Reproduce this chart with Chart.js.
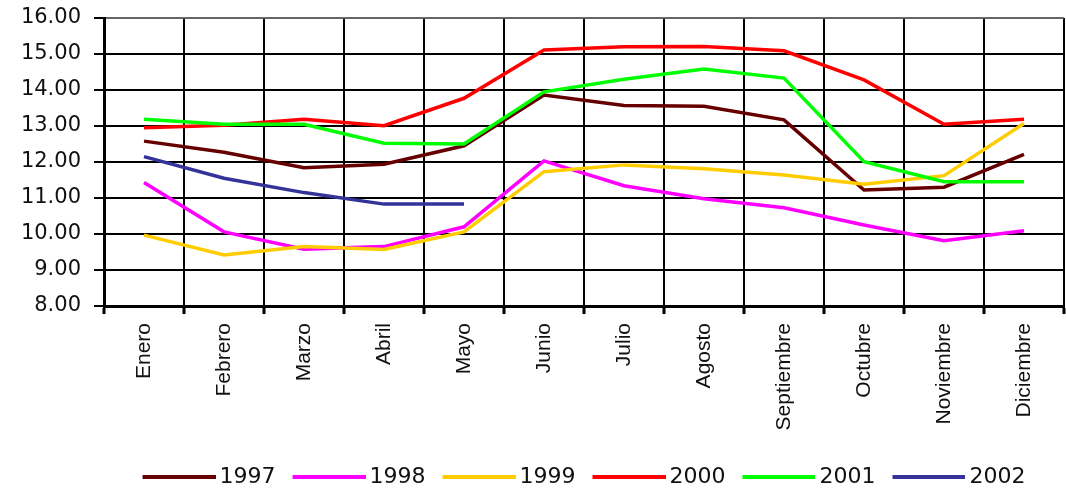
<!DOCTYPE html>
<html>
<head>
<meta charset="utf-8">
<script src="https://cdn.jsdelivr.net/npm/chart.js@4/dist/chart.umd.min.js"></script>
<style>
  html, body { margin: 0; padding: 0; background: #fff; }
  canvas { display: block; }
</style>
</head>
<body>
<canvas id="chart" width="1066" height="493"></canvas>
<script>
// Monthly values per year
const months = ['Enero', 'Febrero', 'Marzo', 'Abril', 'Mayo', 'Junio', 'Julio',
                'Agosto', 'Septiembre', 'Octubre', 'Noviembre', 'Diciembre'];
const years = ['1997', '1998', '1999', '2000', '2001', '2002'];

const v1997 = [12.58, 12.27, 11.84, 11.94, 12.45, 13.86, 13.57, 13.55, 13.17, 11.22, 11.30, 12.21];
const v1998 = [11.43, 10.06, 9.58, 9.65, 10.20, 12.03, 11.34, 10.98, 10.73, 10.25, 9.81, 10.09];
const v1999 = [9.97, 9.42, 9.65, 9.57, 10.06, 11.73, 11.92, 11.81, 11.64, 11.38, 11.62, 13.07];
const v2000 = [12.95, 13.02, 13.19, 13.01, 13.77, 15.11, 15.20, 15.21, 15.09, 14.28, 13.05, 13.19];
const v2001 = [13.19, 13.05, 13.05, 12.52, 12.50, 13.95, 14.30, 14.58, 14.33, 12.01, 11.45, 11.45];
const v2002 = [12.15, 11.55, 11.15, 10.83, 10.83, null, null, null, null, null, null, null];

const yMin = 8, yMax = 16, yStep = 1;

const seriesValues = [v1997, v1998, v1999, v2000, v2001, v2002];
const seriesColors = ['#660000', '#ff00ff', '#ffcc00', '#ff0000', '#00ff00', '#333399'];

// Legend swatch: a long stroke sitting close to the year text
const SWATCH_BOX = 66, SWATCH_LEN = 73, SWATCH_H = 4;
function makeSwatch(color) {
  const extra = SWATCH_LEN - SWATCH_BOX;
  const c = document.createElement('canvas');
  c.width = SWATCH_BOX + 2 * extra;
  c.height = SWATCH_H;
  const g = c.getContext('2d');
  g.fillStyle = color;
  g.fillRect(extra, 0, SWATCH_LEN, SWATCH_H);
  return c;
}

const datasets = years.map((y, i) => ({
  label: y,
  data: seriesValues[i],
  borderColor: seriesColors[i],
  backgroundColor: seriesColors[i],
  borderWidth: 3.5,
  pointRadius: 0,
  pointHoverRadius: 0,
  pointStyle: makeSwatch(seriesColors[i]),
  tension: 0,
  fill: false,
  spanGaps: false,
  order: -i            // later years are painted over earlier ones
}));

// Keep the legend centred under the plot area instead of the whole canvas
const centerLegend = {
  id: 'centerLegend',
  afterLayout(chart) {
    const lg = chart.legend;
    if (!lg) return;
    const dx = (chart.chartArea.left + chart.chartArea.right) / 2 - (lg.left + lg.right) / 2;
    lg.left += dx;
    lg.right += dx;
  }
};

new Chart(document.getElementById('chart'), {
  type: 'line',
  data: { labels: months, datasets },
  plugins: [centerLegend],
  options: {
    responsive: false,
    animation: false,
    devicePixelRatio: 1,
    layout: { padding: { top: 18, right: 2, left: 0, bottom: -5 } },
    plugins: {
      tooltip: { enabled: false },
      legend: {
        position: 'bottom',
        labels: {
          usePointStyle: true,
          pointStyleWidth: SWATCH_BOX,
          boxHeight: 22,
          padding: 17,
          color: '#111',
          font: { family: 'DejaVu Sans', size: 22 },
          sort: (a, b) => a.datasetIndex - b.datasetIndex
        }
      }
    },
    scales: {
      x: {
        offset: true,
        afterFit(scale) { scale.height = 143; },
        grid: {
          offset: true,
          color: (ctx) => (ctx.index === months.length ? '#888' : '#000'),
          lineWidth: 2,
          tickLength: 8,
          tickWidth: 3,
          tickColor: '#000'
        },
        border: { color: '#000', width: 3 },
        ticks: {
          minRotation: 90,
          maxRotation: 90,
          autoSkip: false,
          padding: 9,
          color: '#111',
          font: { family: 'Liberation Sans', size: 21 }
        }
      },
      y: {
        min: yMin,
        max: yMax,
        afterFit(scale) {
          scale.width = 104;
          scale.paddingTop = 0;
          scale.paddingBottom = 0;
        },
        grid: {
          color: (ctx) => (ctx.tick && ctx.tick.value === yMax ? '#666' : '#000'),
          lineWidth: 2,
          tickLength: 10,
          tickColor: '#000'
        },
        border: { color: '#000', width: 3 },
        ticks: {
          stepSize: yStep,
          padding: 13,
          color: '#111',
          font: { family: 'DejaVu Sans', size: 21 },
          callback: (v) => Number(v).toFixed(2)
        }
      }
    }
  }
});
</script>
</body>
</html>
